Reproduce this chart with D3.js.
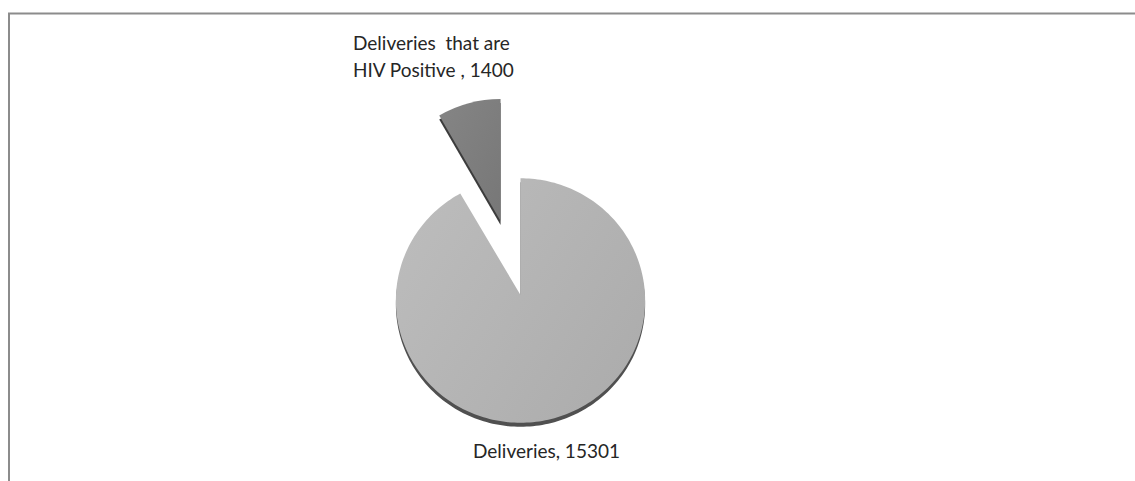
<!DOCTYPE html>
<html>
<head>
<meta charset="utf-8">
<script src="https://cdn.jsdelivr.net/npm/d3@7"></script>
<style>
  html, body { margin: 0; padding: 0; background: #ffffff; }
  svg { display: block; }
</style>
</head>
<body>
<svg id="chart" width="1135" height="481"></svg>
<script>
// ---- data ----
const categories = ["Deliveries", "Deliveries  that are HIV Positive"];
const values = [15301, 1400];
const labelLines = [
  ["Deliveries, 15301"],
  ["Deliveries  that are", "HIV Positive , 1400"]
];

// ---- layout ----
const W = 1135, H = 481;
const svg = d3.select("#chart");

// frame (continues past the right and bottom edges of the picture)
svg.append("rect")
  .attr("x", 9).attr("y", 13.5)
  .attr("width", 1140).attr("height", 520)
  .attr("fill", "none")
  .attr("stroke", "#8c8c8c")
  .attr("stroke-width", 2);

const defs = svg.append("defs");
const g1 = defs.append("linearGradient").attr("id", "gBig")
  .attr("x1", "0%").attr("y1", "20%").attr("x2", "100%").attr("y2", "80%");
g1.append("stop").attr("offset", "0%").attr("stop-color", "#bcbcbc");
g1.append("stop").attr("offset", "100%").attr("stop-color", "#acacac");
const g2 = defs.append("linearGradient").attr("id", "gSmall")
  .attr("x1", "0%").attr("y1", "0%").attr("x2", "100%").attr("y2", "100%");
g2.append("stop").attr("offset", "0%").attr("stop-color", "#858585");
g2.append("stop").attr("offset", "100%").attr("stop-color", "#777777");

const pie = d3.pie().sort(null).value(d => d);
const arcsData = pie(values);

// perspective-tilted pie for the main slice
const cx = 520.5, cy = 295, sx = 124.5, sy = 122, tilt = 0.045;
function project(u, v) {
  const w = 1 / (1 - tilt * v);
  return [cx + u * w * sx, cy + v * w * sy];
}
function tiltedSlicePath(d) {
  const pts = [project(0, 0)];
  const n = 240;
  for (let i = 0; i <= n; i++) {
    const a = d.startAngle + (d.endAngle - d.startAngle) * i / n;
    pts.push(project(Math.sin(a), -Math.cos(a)));
  }
  return d3.line()(pts) + "Z";
}

// exploded small slice
const rSmall = 122, explode = 76.6;
const arcSmall = d3.arc().innerRadius(0).outerRadius(rSmall);
const dSmall = arcsData[1];
const mid = (dSmall.startAngle + dSmall.endAngle) / 2;
const scx = cx + explode * Math.sin(mid), scy = cy - explode * Math.cos(mid);

const depth = 4;
const fills = ["url(#gBig)", "url(#gSmall)"];

// side (thickness)
svg.append("path")
  .attr("d", tiltedSlicePath(arcsData[0]))
  .attr("transform", `translate(0,${depth})`)
  .attr("fill", "#505050");
svg.append("path")
  .attr("d", arcSmall(dSmall))
  .attr("transform", `translate(${scx},${scy + depth})`)
  .attr("fill", "#3c3c3c");

// top faces
svg.append("path")
  .attr("d", tiltedSlicePath(arcsData[0]))
  .attr("fill", fills[0]);
svg.append("path")
  .attr("d", arcSmall(dSmall))
  .attr("transform", `translate(${scx},${scy})`)
  .attr("fill", fills[1]);

// labels
const font = "Lato, 'Open Sans', sans-serif";
const labelPos = [
  { x: 473, y: 458 },
  { x: 353, y: 50 }
];
labelLines.forEach((lines, i) => {
  const t = svg.append("text")
    .attr("x", labelPos[i].x).attr("y", labelPos[i].y)
    .attr("font-family", font)
    .attr("font-size", 19)
    .attr("fill", "#262626");
  lines.forEach((ln, j) => {
    t.append("tspan")
      .attr("x", labelPos[i].x)
      .attr("dy", j === 0 ? 0 : 26.5)
      .attr("xml:space", "preserve")
      .style("white-space", "pre")
      .text(ln);
  });
});
</script>
</body>
</html>
